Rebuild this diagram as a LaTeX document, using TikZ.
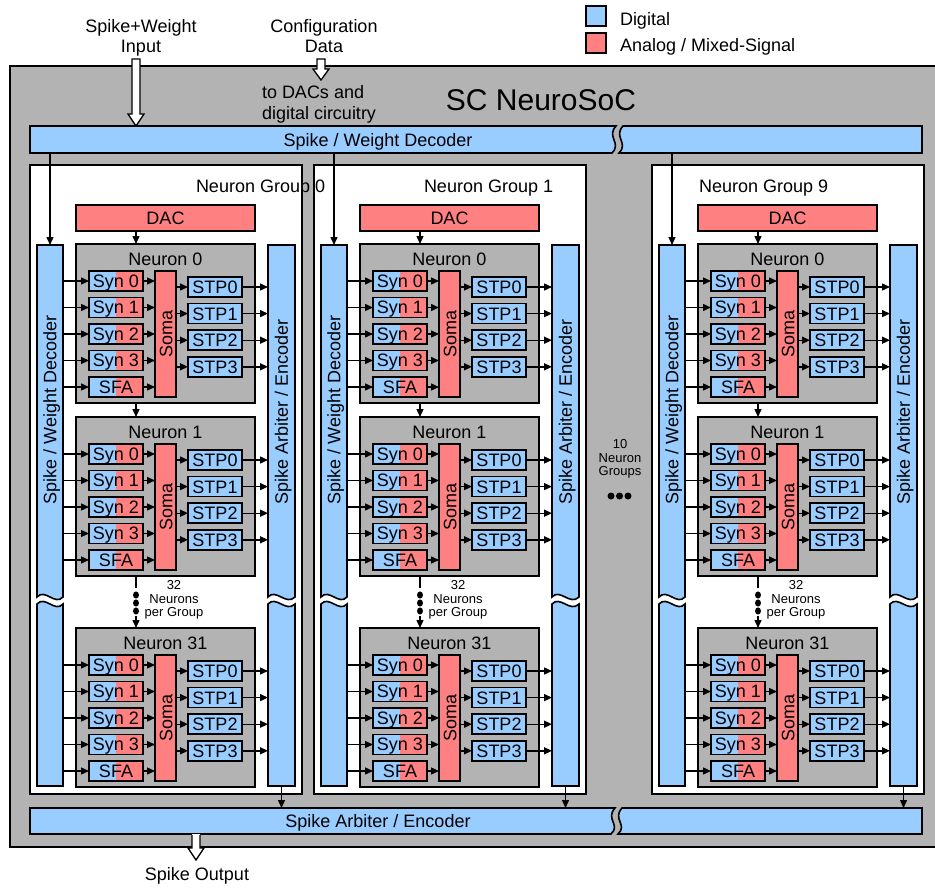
\documentclass[tikz,border=0pt]{standalone}
\usepackage{fontspec}
\setmainfont{Liberation Sans}
\usetikzlibrary{arrows.meta}
\definecolor{dig}{RGB}{153,204,255}
\definecolor{ana}{RGB}{255,128,128}
\definecolor{chip}{RGB}{179,179,179}
\newcommand\vbarshape[2]{%
  \path[bd,fill=dig] (#1,245) -- (#2,245) -- (#2,597) .. controls ({#1+18},606) and ({#1+8},588) .. (#1,597) -- cycle;
  \path[bd,fill=dig] (#1,604) .. controls ({#1+8},595) and ({#1+18},613) .. (#2,604) -- (#2,786) -- (#1,786) -- cycle;
}
\begin{document}
\begin{tikzpicture}[x=1pt,y=-1pt,
  every node/.style={inner sep=0pt,outer sep=0pt},
  font=\fontsize{18}{21}\selectfont,
  txt/.style={text height=12.9pt,text depth=0pt},
  smallf/.style={font=\fontsize{13}{13.5}\selectfont,align=center},
  bd/.style={draw=black,line width=1.6pt},
  arr/.style={line width=1.4pt,-{Triangle[length=8pt,width=7pt]}},
  hollow/.style={draw=black,line width=1.3pt,fill=white,line join=miter}]
\useasboundingbox (0,0) rectangle (935,888);

% chip background
\path[bd,fill=chip] (10,66) rectangle (945,847);
\node[font=\fontsize{30}{34}\selectfont,text height=21.5pt,text depth=0pt] (title) at (541,99.5) {SC NeuroSoC};

% legend
\node[bd,fill=dig,minimum width=20pt,minimum height=20pt] (legd) at (596,16) {};
\node[txt,anchor=west] (legdt) at (620,18.8) {Digital};
\node[bd,fill=ana,minimum width=20pt,minimum height=20pt] (lega) at (596,43) {};
\node[txt,anchor=west] (legat) at (620,45) {Analog / Mixed-Signal};

% inputs
\node[txt] (inl1) at (141,26) {Spike+Weight};
\node[txt] (inl2) at (141,46.5) {Input};
\node[txt] (cfl1) at (324,26) {Configuration};
\node[txt] (cfl2) at (324,46.5) {Data};
\node[txt,anchor=west] (todac1) at (262,92.5) {to DACs and};
\node[txt,anchor=west] (todac2) at (262,113) {digital circuitry};

% top decoder bar
\path[bd,fill=dig] (30,126) -- (616,126) .. controls (606,137) and (622,143) .. (612,153) -- (30,153) -- cycle;
\path[bd,fill=dig] (623,126) -- (922,126) -- (922,153) -- (619,153) .. controls (629,143) and (613,137) .. (623,126) -- cycle;
\node[minimum width=892pt,minimum height=27pt] (topdec) at (476,139.5) {};
\node[txt] (topdect) at (378,140.5) {Spike / Weight Decoder};

% bottom encoder bar
\path[bd,fill=dig] (30,808) -- (615,808) .. controls (605,819) and (621,825) .. (611,834) -- (30,834) -- cycle;
\path[bd,fill=dig] (622,808) -- (922,808) -- (922,834) -- (618,834) .. controls (628,825) and (612,819) .. (622,808) -- cycle;
\node[minimum width=892pt,minimum height=26pt] (botenc) at (476,821) {};
\node[txt] (botenct) at (378,821) {Spike Arbiter / Encoder};

% hollow arrows
\path[hollow] (132,59) -- (140,59) -- (140,114) -- (144,114) -- (136,126) -- (128,114) -- (132,114) -- cycle;
\path[hollow] (317,59) -- (325,59) -- (325,69) -- (329,69) -- (321,80) -- (313,69) -- (317,69) -- cycle;
\fill[white] (192,834) -- (200,834) -- (200,848) -- (204,848) -- (196,860) -- (188,848) -- (192,848) -- cycle;
\draw[line width=1.3pt] (200,835) -- (200,848) -- (204,848) -- (196,860) -- (188,848) -- (192,848) -- (192,835);
\node[txt] (outl) at (197,874) {Spike Output};

% group boxes
\foreach \off in {0,284,622}{
  \path[bd,fill=white] ({30+\off},165) rectangle ({302+\off},794);
}

% group contents
\foreach \g/\off/\lx in {0/0/166,1/284/110,9/622/47}{
\begin{scope}[xshift=\off pt]
  \node[txt,anchor=west] (g\g-lab) at ({30+\lx},186.5) {Neuron Group \g};
  \node[bd,fill=ana,txt,minimum width=179pt,minimum height=26pt] (g\g-dac) at (165.5,218) {DAC};
  \vbarshape{37}{63}
  \vbarshape{268}{295}
  \node[minimum width=26pt,minimum height=541pt] (g\g-dec) at (50,515.5) {};
  \node[minimum width=27pt,minimum height=541pt] (g\g-arb) at (281.5,515.5) {};
  \node[txt,rotate=90] (g\g-dect) at (50,410) {Spike / Weight Decoder};
  \node[txt,rotate=90] (g\g-arbt) at (281.5,412) {Spike Arbiter / Encoder};
  \draw[arr] (g\g-dec.north |- topdec.south) -- (g\g-dec.north);
  \draw[arr] (g\g-arb.south) -- (g\g-arb.south |- botenc.north);
  \foreach \k/\t in {0/244,1/417,31/628}{
    \node[bd,fill=chip,minimum width=179pt,minimum height=159pt] (g\g-n\k) at (165.5,{\t+79.5}) {};
    \node[txt] (g\g-n\k-t) at (165.5,{\t+15}) {Neuron \k};
    \node[bd,fill=ana,minimum width=21pt,minimum height=126pt] (g\g-n\k-soma) at (165.5,{\t+90}) {};
    \node[txt,rotate=90] (g\g-n\k-somat) at (166,{\t+90}) {Soma};
    \foreach \j/\s in {0/Syn 0,1/Syn 1,2/Syn 2,3/Syn 3,4/SFA}{
      \pgfmathsetmacro\ya{\t+27+26.5*\j}
      \fill[dig] (89,\ya) rectangle (116,{\ya+20});
      \fill[ana] (116,\ya) rectangle (143,{\ya+20});
      \node[bd,txt,minimum width=54pt,minimum height=20pt] (g\g-n\k-s\j) at (116,{\ya+10}) {\s};
      \draw[arr] (g\g-dec.east |- g\g-n\k-s\j.west) -- (g\g-n\k-s\j.west);
      \draw[arr] (g\g-n\k-s\j.east) -- (g\g-n\k-s\j.east -| g\g-n\k-soma.west);
    }
    \foreach \j in {0,...,3}{
      \pgfmathsetmacro\yb{\t+43+26.6*\j}
      \node[bd,fill=dig,txt,minimum width=54pt,minimum height=20pt] (g\g-n\k-p\j) at (215,\yb) {STP\j};
      \draw[arr] (g\g-n\k-soma.east |- g\g-n\k-p\j.west) -- (g\g-n\k-p\j.west);
      \draw[arr] (g\g-n\k-p\j.east) -- (g\g-n\k-p\j.east -| g\g-arb.west);
    }
  }
  \draw[arr] ([xshift=-29.5pt]g\g-dac.south) -- ([xshift=-29.5pt]g\g-n0.north);
  \draw[arr] ([xshift=-29.5pt]g\g-n0.south) -- ([xshift=-29.5pt]g\g-n1.north);
  \draw[line width=1.4pt] ([xshift=-29.5pt]g\g-n1.south) -- ++(0,12);
  \foreach \d in {19,27,35}{
    \fill ([xshift=-29.5pt]g\g-n1.south) ++(0,\d) circle[x radius=3pt,y radius=3.6pt];
  }
  \draw[arr] ([xshift=-29.5pt]g\g-n1.south) ++(0,40) -- ([xshift=-29.5pt]g\g-n31.north);
  \node[smallf] (g\g-cnt) at (174,600) {32\\Neurons\\per Group};
\end{scope}
}

% ten groups note
\node[smallf] (tengrp) at (620,459) {10\\Neuron\\Groups};
\foreach \dx in {611,619.5,628}{
  \fill (\dx,496) circle[radius=3.5pt];
}
\end{tikzpicture}
\end{document}
